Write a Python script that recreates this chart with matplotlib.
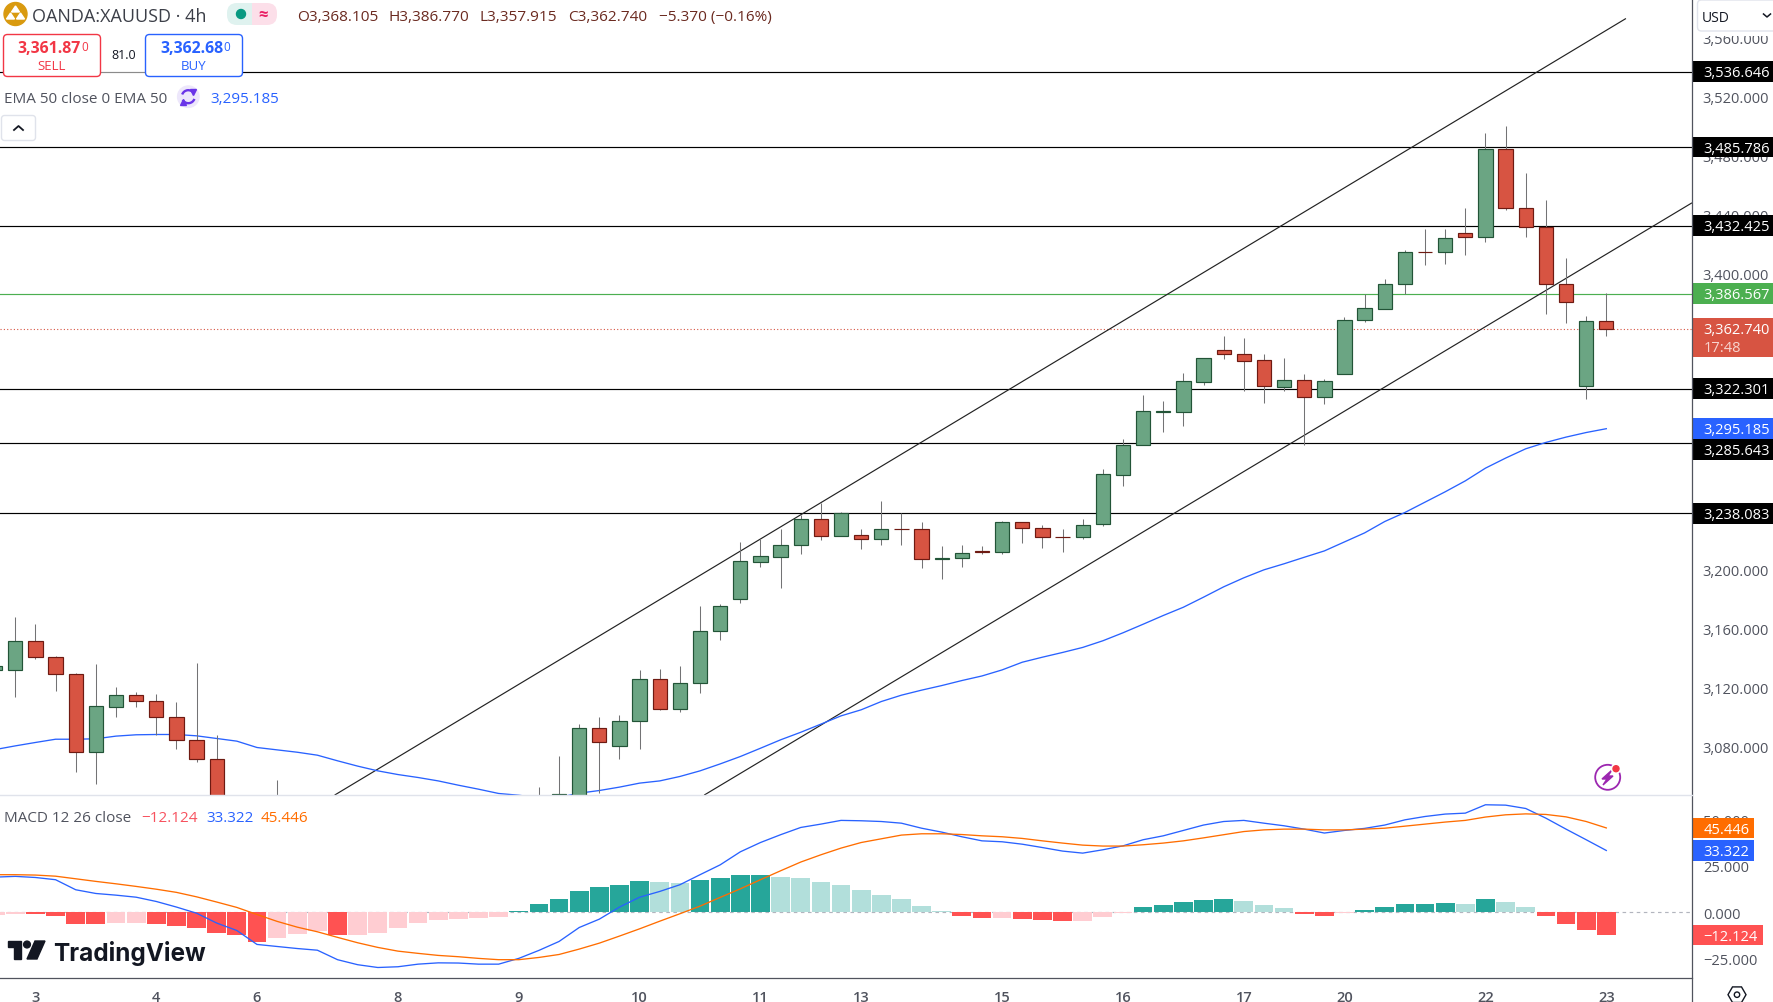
import math
import matplotlib
matplotlib.use("Agg")
import matplotlib.pyplot as plt
from matplotlib.patches import Rectangle, FancyBboxPatch, Circle, Polygon, RegularPolygon, Arc
from matplotlib.transforms import blended_transform_factory

plt.rcParams['font.family'] = ['Open Sans', 'DejaVu Sans']

# candles, oldest first (the ones between 12 and 28 sit mostly below the pane)
opens = [3131.6, 3131.6, 3151.4, 3140.6, 3129.1, 3076.3, 3107.2, 3114.9, 3110.8, 3100.0,
         3084.5, 3071.6, 3034.0, 3022.0, 3030.0, 3036.0, 3020.0, 3030.0, 3018.0, 3026.0,
         3016.0, 3024.0, 3028.0, 3034.0, 3026.0, 3032.0, 3038.0, 3030.0, 3042.0, 3044.0,
         3092.6, 3080.2, 3097.3, 3125.7, 3105.4, 3123.0, 3158.2, 3179.8, 3205.3, 3208.3,
         3216.2, 3234.0, 3222.9, 3223.2, 3220.9, 3227.2, 3227.2, 3206.7, 3207.4, 3212.6,
         3212.1, 3232.0, 3227.9, 3221.8, 3221.6, 3230.6, 3264.2, 3284.0, 3306.8, 3306.8,
         3327.1, 3348.3, 3345.6, 3341.6, 3323.7, 3328.0, 3316.3, 3331.9, 3368.4, 3376.5,
         3392.8, 3414.9, 3414.4, 3427.5, 3425.2, 3484.3, 3444.4, 3431.8, 3393.0, 3324.4,
         3368.105]
highs = [3138.0, 3167.9, 3163.2, 3141.5, 3130.0, 3136.1, 3120.5, 3117.2, 3115.8, 3110.4,
         3136.8, 3087.8, 3044.0, 3040.0, 3057.6, 3045.0, 3036.0, 3042.0, 3032.0, 3040.0,
         3030.0, 3038.0, 3044.0, 3046.0, 3040.0, 3045.0, 3046.0, 3052.9, 3073.9, 3095.5,
         3100.2, 3101.6, 3132.0, 3132.7, 3134.7, 3175.3, 3176.5, 3218.6, 3220.5, 3227.4,
         3237.0, 3244.8, 3238.7, 3227.2, 3246.4, 3238.3, 3232.2, 3215.9, 3216.6, 3215.9,
         3232.6, 3232.0, 3229.9, 3227.2, 3234.0, 3268.0, 3288.1, 3318.1, 3314.0, 3332.8,
         3342.9, 3358.0, 3356.7, 3345.8, 3343.1, 3332.3, 3328.7, 3370.9, 3386.0, 3396.6,
         3416.2, 3430.4, 3430.4, 3444.6, 3495.4, 3500.1, 3468.3, 3450.0, 3410.8, 3371.6,
         3386.77]
lows = [3128.0, 3114.0, 3139.7, 3117.4, 3062.6, 3054.5, 3100.2, 3106.6, 3088.1, 3078.6,
        3070.0, 3028.0, 3015.0, 3008.0, 3020.0, 3016.0, 3012.0, 3015.0, 3006.0, 3010.0,
        3002.0, 3012.0, 3018.0, 3020.0, 3014.0, 3022.0, 3026.0, 3022.0, 3036.0, 3036.0,
        3049.0, 3072.0, 3078.8, 3105.0, 3103.6, 3116.7, 3151.9, 3177.6, 3201.9, 3187.5,
        3210.5, 3220.0, 3222.9, 3213.9, 3216.2, 3216.6, 3201.1, 3193.6, 3201.7, 3210.5,
        3210.5, 3218.0, 3214.6, 3211.9, 3220.7, 3229.5, 3256.5, 3284.0, 3293.0, 3297.1,
        3324.9, 3342.5, 3321.0, 3312.9, 3321.0, 3284.3, 3311.6, 3331.9, 3367.7, 3376.5,
        3386.4, 3405.6, 3406.3, 3412.4, 3421.6, 3443.3, 3424.6, 3372.5, 3367.0, 3315.6,
        3357.915]
closes = [3134.5, 3151.4, 3140.4, 3129.1, 3076.3, 3107.4, 3114.9, 3110.8, 3099.8, 3084.5,
          3071.4, 3034.0, 3022.0, 3030.0, 3036.0, 3020.0, 3030.0, 3018.0, 3026.0, 3016.0,
          3024.0, 3028.0, 3034.0, 3026.0, 3032.0, 3038.0, 3030.0, 3042.0, 3047.9, 3092.6,
          3082.9, 3097.3, 3125.7, 3105.4, 3123.0, 3158.2, 3175.1, 3205.6, 3209.0, 3216.4,
          3234.0, 3222.9, 3238.0, 3220.9, 3227.2, 3227.0, 3206.7, 3207.6, 3211.0, 3212.1,
          3232.0, 3227.7, 3221.6, 3221.6, 3229.9, 3264.4, 3284.0, 3307.1, 3307.3, 3327.4,
          3342.9, 3345.4, 3341.3, 3324.4, 3328.0, 3316.3, 3327.4, 3368.6, 3376.7, 3393.0,
          3414.6, 3414.4, 3424.1, 3425.2, 3484.3, 3444.2, 3431.5, 3393.0, 3380.8, 3367.9,
          3362.74]
ema50 = [3078.1, 3080.6, 3082.9, 3085.1, 3085.1, 3085.4, 3087.2, 3088.1, 3088.3, 3088.3,
         3087.4, 3085.6, 3083.8, 3079.5, 3077.9, 3076.3, 3074.3, 3070.5, 3066.9, 3063.7,
         3061.2, 3059.2, 3056.9, 3054.0, 3051.3, 3048.4, 3047.2, 3045.5, 3045.8, 3048.6,
         3050.4, 3052.7, 3055.4, 3056.9, 3059.9, 3063.7, 3068.4, 3073.4, 3079.0, 3084.7,
         3089.8, 3095.3, 3100.9, 3105.0, 3110.6, 3114.9, 3118.3, 3121.4, 3124.8, 3127.9,
         3132.0, 3137.2, 3140.6, 3143.8, 3147.2, 3151.7, 3157.1, 3162.9, 3168.8, 3174.4,
         3181.2, 3188.2, 3194.3, 3199.7, 3203.8, 3208.2, 3212.5, 3218.6, 3224.7, 3232.4,
         3238.5, 3245.5, 3252.5, 3259.9, 3268.5, 3275.3, 3281.6, 3285.9, 3289.5, 3292.6,
         3295.185]

# macd pane
hist = [-1.6, -0.7, -0.7, -1.8, -6.1, -6.1, -5.6, -5.6, -6.1, -7.2,
        -8.2, -10.9, -12.0, -15.8, -13.6, -11.5, -10.0, -12.0, -12.0, -10.9,
        -8.2, -5.6, -3.9, -3.4, -2.9, -2.3, 0.9, 4.7, 7.3, 11.6,
        13.8, 14.9, 17.0, 16.5, 15.9, 17.6, 18.6, 20.3, 20.3, 19.2,
        18.6, 16.5, 14.9, 12.2, 9.5, 7.3, 3.6, 0.9, -1.8, -2.9,
        -2.9, -3.4, -3.9, -4.5, -4.5, -2.3, -0.2, 3.0, 4.1, 5.7,
        6.8, 7.3, 6.3, 4.1, 2.5, -0.7, -1.8, -0.2, 1.4, 3.0,
        4.7, 4.7, 5.2, 4.7, 7.3, 5.7, 3.0, -1.8, -6.1, -9.3,
        -12.124]
hist_pale = [0, 1, 6, 7, 14, 15, 16, 18, 19, 20, 21, 22, 23, 24, 25, 33, 34, 39, 40, 41, 42,
             43, 44, 45, 46, 47, 50, 54, 55, 56, 62, 63, 64, 67, 73, 75, 76]
macd = [19.0, 19.4, 18.8, 17.6, 12.2, 10.2, 9.3, 8.2, 5.9, 2.9,
        -0.4, -5.7, -9.7, -17.2, -18.3, -19.4, -20.3, -25.4, -28.1, -29.6,
        -29.2, -27.8, -27.1, -27.2, -27.8, -27.8, -24.7, -20.4, -15.6, -8.1,
        -3.6, 2.9, 8.2, 11.3, 14.9, 20.3, 25.6, 32.6, 37.6, 41.8,
        45.7, 47.5, 49.5, 49.3, 48.9, 48.0, 45.3, 43.2, 40.7, 38.5,
        38.0, 36.7, 34.9, 33.0, 31.9, 33.7, 35.8, 39.1, 41.2, 44.1,
        47.0, 48.9, 49.5, 48.0, 46.6, 44.8, 42.7, 44.1, 45.2, 47.0,
        49.8, 51.6, 52.9, 53.4, 57.9, 57.7, 55.9, 50.7, 44.8, 39.1,
        33.322]
signal = [20.3, 20.3, 20.1, 19.5, 18.1, 16.7, 15.4, 14.0, 12.5, 10.8,
          8.4, 5.6, 2.7, -1.1, -4.8, -7.9, -10.4, -13.4, -16.3, -18.8,
          -20.8, -22.0, -23.1, -23.8, -24.7, -25.4, -25.4, -24.2, -22.6, -19.7,
          -16.5, -12.7, -8.8, -4.7, -0.7, 3.4, 8.1, 12.7, 17.6, 22.4,
          27.1, 31.0, 34.6, 37.6, 39.6, 41.6, 42.3, 42.3, 41.9, 41.2,
          40.7, 39.8, 38.5, 37.3, 36.2, 35.7, 35.7, 36.4, 37.3, 38.5,
          40.1, 41.8, 43.5, 44.4, 44.8, 44.8, 44.4, 44.4, 44.8, 45.3,
          46.4, 47.5, 48.6, 49.5, 51.3, 52.5, 53.0, 52.7, 51.4, 48.9,
          45.446]

# drawn levels and channel
support_levels = [3536.646, 3485.786, 3432.425, 3322.301, 3285.643, 3238.083]
green_level = 3386.567
last_price = 3362.74
upper_channel_x = [16.88, 80.95]
upper_channel_y = [3047.5, 3572.5]
lower_channel_x = [35.23, 84.23]
lower_channel_y = [3047.5, 3447.8]

# 3240, 3280, 3320 and 3360 are fully under the tags, so they are left out
price_ticks = [3080, 3120, 3160, 3200, 3400, 3440, 3480, 3520, 3560]
macd_ticks = [-25, 0, 25, 50]
date_ticks = [2, 8, 13, 20, 26, 32, 38, 43, 50, 56, 62, 67, 74, 80]
date_labels = ['3', '4', '6', '8', '9', '10', '11', '13', '15', '16', '17', '20', '22', '23']

UP, DOWN = '#6ba583', '#d75442'
UP_EDGE, DOWN_EDGE = '#225437', '#6e1a12'
WICK = '#737375'
BLUE, ORANGE, TEXT = '#2962ff', '#ff6d00', '#50535e'
W, H = 1774, 1003
AXIS_X = 1692.5
FS = 10.5
SHIFT = 0.8  # target rows sit a hair lower than the axes edges

fig = plt.figure(figsize=(W / 100, H / 100), dpi=100)
ax = fig.add_axes([0, (H - 795 - SHIFT) / H, AXIS_X / W, 795 / H])
ax2 = fig.add_axes([0, (H - 978.3 - SHIFT) / H, AXIS_X / W, 183 / H])
xs = list(range(len(closes)))

for a in (ax, ax2):
    a.set_xlim(0.24, 84.28)
    for s in a.spines.values():
        s.set_visible(False)
    a.yaxis.tick_right()
    a.tick_params(axis='y', length=0, pad=7.4, labelsize=FS, labelcolor=TEXT)
    a.tick_params(axis='x', length=0)

# price pane
ax.set_ylim(3047.5, 3585.36)
ax.set_yticks(price_ticks)
ax.set_yticklabels([f'{p:,.3f}' for p in price_ticks], va='center_baseline')
ax.set_xticks([])

for lvl in support_levels:
    ax.axhline(lvl, color='black', lw=0.85, zorder=1)
ax.axhline(green_level, color='#4caf50', lw=0.85, zorder=1)
ax.axhline(last_price, color=DOWN, lw=0.8, ls=(0, (1, 2)), zorder=1)
ax.plot(upper_channel_x, upper_channel_y, color='#222222', lw=0.85, zorder=1.2)
ax.plot(lower_channel_x, lower_channel_y, color='#222222', lw=0.85, zorder=1.2)
ax.plot(xs, ema50, color=BLUE, lw=0.95, zorder=1.5)

for i in xs:
    up = closes[i] >= opens[i]
    ax.vlines(i, lows[i], highs[i], color=WICK, lw=0.75, zorder=2)
    ax.bar(i, abs(closes[i] - opens[i]), bottom=min(opens[i], closes[i]), width=0.71,
           color=UP if up else DOWN, edgecolor=UP_EDGE if up else DOWN_EDGE, lw=0.85, zorder=3)

# macd pane
ax2.set_ylim(-35.3, 63.1)
ax2.set_yticks(macd_ticks)
ax2.set_yticklabels(['\u221225.000', '0.000', '25.000', '50.000'], va='center_baseline')
ax2.set_xticks(date_ticks)
ax2.set_xticklabels(date_labels, fontsize=FS, color=TEXT, fontweight='semibold')
ax2.tick_params(axis='x', pad=8.3)

ax2.axhline(0, color='#b2b5be', lw=0.85, ls=(0, (3, 3)), zorder=1)
bar_colors = []
for i, v in enumerate(hist):
    if v >= 0:
        bar_colors.append('#b2dfdb' if i in hist_pale else '#26a69a')
    else:
        bar_colors.append('#ffcdd2' if i in hist_pale else '#ff5252')
ax2.bar(xs, hist, width=0.93, color=bar_colors, zorder=2)
ax2.plot(xs, macd, color=BLUE, lw=0.95, zorder=3)
ax2.plot(xs, signal, color=ORANGE, lw=0.95, zorder=4)


def price_tag(a, value, text, color, ppu, width=81.5, below=0, nudge=0):
    # tag on the price scale, sized in pixels, nudge pushes it down off its neighbour
    tr = blended_transform_factory(a.transAxes, a.transData)
    mid = value - nudge / ppu
    top = mid + 10.4 / ppu
    bot = mid - (10.4 + below) / ppu
    a.add_patch(Rectangle((1, bot), width / AXIS_X, top - bot, transform=tr, color=color,
                          clip_on=False, zorder=6, lw=0))
    a.text(1 + 10.8 / AXIS_X, mid + 0.9 / ppu, text, transform=tr, color='white', fontsize=FS,
           va='center_baseline', clip_on=False, zorder=7)


for lvl in support_levels:
    price_tag(ax, lvl, f'{lvl:,.3f}', '#000000', 1.478, nudge=7 if lvl == 3285.643 else 0)
price_tag(ax, green_level, f'{green_level:,.3f}', '#4caf50', 1.478)
price_tag(ax, ema50[-1], f'{ema50[-1]:,.3f}', BLUE, 1.478)
price_tag(ax, last_price, f'{last_price:,.3f}', DOWN, 1.478, below=18)
price_tag(ax2, signal[-1], f'{signal[-1]:.3f}', ORANGE, 1.86, width=61.5)
price_tag(ax2, macd[-1], f'{macd[-1]:.3f}', BLUE, 1.86, width=61.5)
price_tag(ax2, hist[-1], f'\u2212{abs(hist[-1]):.3f}', '#ff5252', 1.86, width=70.5)

# overlay in pixel coordinates for the chart's toolbar bits
ui = fig.add_axes([0, 0, 1, 1], zorder=10)
ui.set_xlim(0, W)
ui.set_ylim(H, 0)
ui.axis('off')

ui.plot([AXIS_X, AXIS_X], [0, H], color='#50535e', lw=0.9)
ui.plot([0, AXIS_X], [979, 979], color='#50535e', lw=0.9)
ui.plot([0, AXIS_X], [796, 796], color='#e0e3eb', lw=1)
ui.text(1703.5, 348, '17:48', color='#f7d4cf', fontsize=FS, va='center')

# header
ui.add_patch(Circle((15.5, 15), 11.5, color='#d99a0f'))
ui.add_patch(Polygon([[15.5, 7], [19.5, 13], [11.5, 13]], color='white'))
ui.add_patch(Polygon([[10.5, 14], [14.5, 20], [6.5, 20]], color='white'))
ui.add_patch(Polygon([[20.5, 14], [24.5, 20], [16.5, 20]], color='white'))
ui.text(32, 17, 'OANDA:XAUUSD \u00b7 4h', fontsize=13, color='#3c3f48', va='center')
ui.add_patch(FancyBboxPatch((227, 4), 35, 22, boxstyle='round,pad=0,rounding_size=10', fc='#dff2ef', ec='none'))
ui.add_patch(FancyBboxPatch((252, 4), 25, 22, boxstyle='round,pad=0,rounding_size=10', fc='#fcdfe9', ec='none'))
ui.add_patch(Rectangle((252, 4), 12, 22, fc='#fcdfe9', ec='none'))
ui.add_patch(Circle((241, 15), 4.5, color='#089981'))
ui.text(263, 15, '\u2248', color='#e91e63', fontsize=12, va='center', ha='center', fontweight='bold')
ohlc_color = '#6b2a20'
for x, s in [(297, 'O3,368.105'), (389, 'H3,386.770'), (480, 'L3,357.915'), (568, 'C3,362.740'),
             (659, '\u22125.370 (\u22120.16%)')]:
    ui.text(x, 17, s, color=ohlc_color, fontsize=11.1, va='center')

# sell / buy
ui.add_patch(Rectangle((100, 66), 46, 10, fc='white', alpha=0.55, ec='none'))
ui.add_patch(FancyBboxPatch((3.5, 35.5), 97, 42, boxstyle='round,pad=0,rounding_size=4', fc='white', ec='#f23645', lw=1))
ui.add_patch(FancyBboxPatch((145.5, 35.5), 97, 42, boxstyle='round,pad=0,rounding_size=4', fc='white', ec=BLUE, lw=1))
ui.text(17, 48.5, '3,361.87', color='#f23645', fontsize=11.4, va='center', fontweight='bold')
ui.text(81, 47, '0', color='#f23645', fontsize=8.5, va='center')
ui.text(160, 48.5, '3,362.68', color=BLUE, fontsize=11.4, va='center', fontweight='bold')
ui.text(223, 47, '0', color=BLUE, fontsize=8.5, va='center')
ui.text(52, 66, 'SELL', color='#f23645', fontsize=9.5, va='center', ha='center')
ui.text(194, 66, 'BUY', color=BLUE, fontsize=9.5, va='center', ha='center')
ui.text(123.5, 55.5, '81.0', color='#131722', fontsize=9, va='center', ha='center')

# indicator rows
ui.text(4, 99, 'EMA 50 close 0 EMA 50', color=TEXT, fontsize=11, va='center')
ui.add_patch(Circle((188.3, 97.7), 10.7, color='#ede7fb'))
for t1, t2 in [(20, 150), (200, 330)]:
    ui.add_patch(Arc((188.3, 97.7), 13, 13, theta1=t1, theta2=t2, color='#6a35e8', lw=1.7))
ui.plot([183], [102.5], marker='^', ms=4, color='#6a35e8')
ui.plot([193.5], [93], marker='v', ms=4, color='#6a35e8')
ui.text(210, 99, '3,295.185', color=BLUE, fontsize=11, va='center')
ui.add_patch(FancyBboxPatch((1.5, 116.5), 34, 25, boxstyle='round,pad=0,rounding_size=3', fc='white', ec='#e0e3eb', lw=1))
ui.plot([14, 18.5, 23], [131, 127, 131], color='#131722', lw=1.3)

ui.text(4, 818.5, 'MACD 12 26 close', color=TEXT, fontsize=11, va='center')
ui.text(141, 818.5, '\u221212.124', color='#f7525f', fontsize=11, va='center')
ui.text(206, 818.5, '33.322', color=BLUE, fontsize=11, va='center')
ui.text(261, 818.5, '45.446', color=ORANGE, fontsize=11, va='center')

# watermark
ui.add_patch(Polygon([[8, 942], [21, 942], [21, 960], [14, 960], [14, 948], [8, 948]], color='#131722'))
ui.add_patch(Circle((27, 945.5), 3.4, color='#131722'))
ui.add_patch(Polygon([[35, 942], [45, 942], [37, 960], [27, 960]], color='#131722'))
ui.text(53.5, 961, 'TradingView', color='#131722', fontsize=17.5, family='Inter', fontweight='bold', va='baseline')

# right side widgets
ui.add_patch(Rectangle((1694, 0), 80, 36.7, fc='white', ec='none'))
ui.add_patch(FancyBboxPatch((1697.5, 1), 90, 31, boxstyle='round,pad=0,rounding_size=4', fc='white', ec='#e0e3eb', lw=1, clip_on=True))
ui.text(1702, 18, 'USD', color='#131722', fontsize=10, va='center')
ui.plot([1763.5, 1767, 1770.5], [15, 18, 15], color='#131722', lw=1.1)
ui.add_patch(RegularPolygon((1737, 995.7), 6, radius=9, orientation=math.pi / 2, fc='white', ec='#131722', lw=1))
ui.add_patch(Circle((1737, 995.7), 2.7, fc='white', ec='#131722', lw=1))

ui.add_patch(Circle((1607.7, 778.3), 12.5, fc='white', ec='#9c27b0', lw=1.3))
ui.add_patch(Polygon([[1612, 771], [1602, 780], [1607, 780], [1603, 786], [1613, 777], [1608, 777]], color='#9c27b0'))
ui.add_patch(Circle((1616, 769.7), 4.6, color='white'))
ui.add_patch(Circle((1616, 769.7), 3, color='#f23645'))

fig.savefig('out.png', dpi=100)
